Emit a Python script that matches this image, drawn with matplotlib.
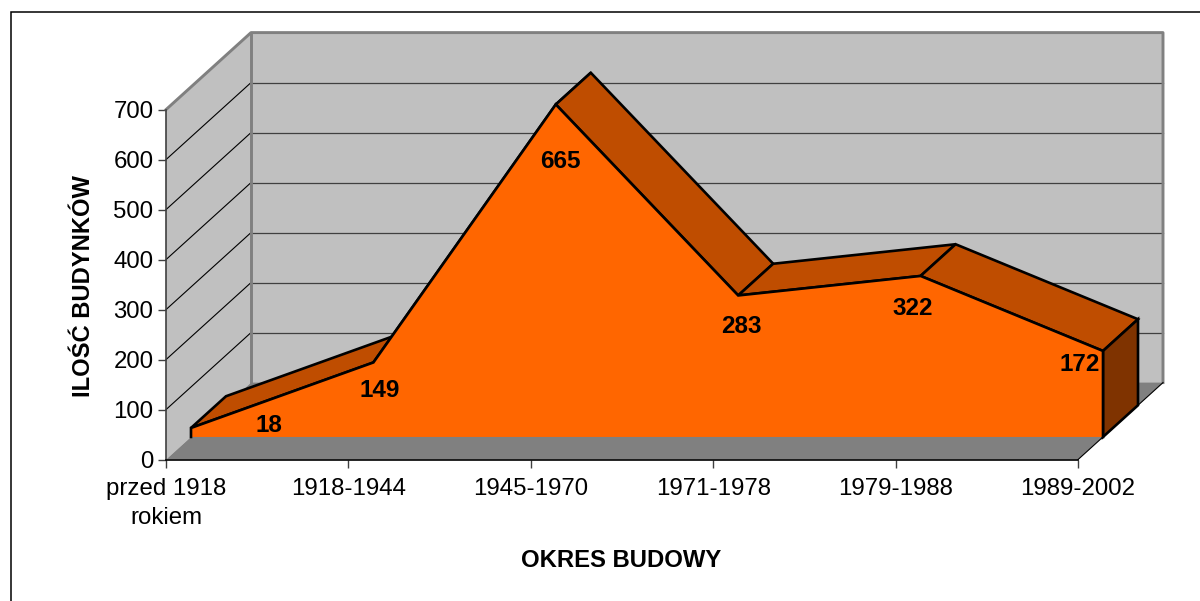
import matplotlib
matplotlib.use("Agg")
import matplotlib.pyplot as plt
from matplotlib.patches import Polygon, Rectangle

plt.rcParams['font.family'] = ['Liberation Sans', 'DejaVu Sans']

categories = ["przed 1918\nrokiem", "1918-1944", "1945-1970", "1971-1978", "1979-1988", "1989-2002"]
values = [18, 149, 665, 283, 322, 172]
y_ticks = [0, 100, 200, 300, 400, 500, 600, 700]
x_title = "OKRES BUDOWY"
y_title = "ILOŚĆ BUDYNKÓW"

# value-label offsets in pixels (right, up), styling only
label_offsets = [(78, 2), (6, -28), (5, -57), (3, -31), (-8, -33), (-23, -14)]

W, H = 1200, 601
fig = plt.figure(figsize=(W / 100, H / 100), dpi=100, facecolor='white')
fig.add_artist(Rectangle((10.5 / W, -0.1), 1.2, 1 - 11.5 / H + 0.1, transform=fig.transFigure,
                         fill=False, ec='black', lw=1.1))
ax = fig.add_axes([166 / W, 1 - 459.6 / H, 912 / W, 350 / H])
ax.set_xlim(0, len(categories) - 1)
ax.set_ylim(y_ticks[0], y_ticks[-1])
ax.patch.set_visible(False)

DEPTH_X = 85 / 912 * (len(categories) - 1)
DEPTH_Y = 77 / 350 * y_ticks[-1]
D_FRONT, D_BACK = 25 / 85, 60 / 85
last = len(categories) - 1


def pr(x, y, d):
    return (x + d * DEPTH_X, y + d * DEPTH_Y)


def poly(points, **kw):
    ax.add_patch(Polygon(points, closed=True, clip_on=False, **kw))


WALL, FLOOR, EDGE = '#C0C0C0', '#808080', '#808080'
FRONT, TOP, SIDE = '#FF6600', '#BF4D00', '#7F3300'
ymax = y_ticks[-1]

# walls and floor
poly([pr(0, 0, 1), pr(last, 0, 1), pr(last, ymax, 1), pr(0, ymax, 1)], fc=WALL, ec='none', zorder=1)
poly([pr(0, 0, 0), pr(0, 0, 1), pr(0, ymax, 1), pr(0, ymax, 0)], fc=WALL, ec='none', zorder=1)
for v in y_ticks[1:-1]:
    xs, ys = zip(pr(0, v, 0), pr(0, v, 1))
    ax.plot(xs, ys, color='black', lw=0.8, clip_on=False, zorder=1.5)
    xs, ys = zip(pr(0, v, 1), pr(last, v, 1))
    ax.plot(xs, ys, color='#404040', lw=0.9, clip_on=False, zorder=1.5)
edge_pts = [pr(0, ymax, 0), pr(0, ymax, 1), pr(last, ymax, 1), pr(last, 0, 1)]
xs, ys = zip(*edge_pts)
ax.plot(xs, ys, color=EDGE, lw=2.1, clip_on=False, zorder=1.6)
xs, ys = zip(pr(0, 0, 1), pr(0, ymax, 1))
ax.plot(xs, ys, color=EDGE, lw=2.1, clip_on=False, zorder=1.6)
poly([pr(0, 0, 0), pr(last, 0, 0), pr(last, 0, 1), pr(0, 0, 1)], fc=FLOOR, ec='none', zorder=2)
xs, ys = zip(pr(last, 0, 0), pr(last, 0, 1))
ax.plot(xs, ys, color='black', lw=0.8, clip_on=False, zorder=2.1)

# area: top faces, front face, right side
line = dict(ec='black', lw=1.9, joinstyle='miter')
for i in range(last):
    poly([pr(i, values[i], D_FRONT), pr(i + 1, values[i + 1], D_FRONT),
          pr(i + 1, values[i + 1], D_BACK), pr(i, values[i], D_BACK)],
         fc=TOP, zorder=3, **line)
poly([pr(last, 0, D_FRONT), pr(last, values[-1], D_FRONT),
      pr(last, values[-1], D_BACK), pr(last, 0, D_BACK)], fc=SIDE, zorder=3, **line)
front = [pr(0, 0, D_FRONT)] + [pr(i, v, D_FRONT) for i, v in enumerate(values)] + [pr(last, 0, D_FRONT)]
poly(front, fc=FRONT, ec='none', zorder=4)
xs, ys = zip(*front)
ax.plot(xs, ys, color='black', lw=1.9, clip_on=False, zorder=5, solid_joinstyle='miter')

# value labels
for i, v in enumerate(values):
    dx, dy = label_offsets[i]
    ax.annotate(str(v), xy=pr(i, v, D_FRONT), xytext=(dx * 0.72, dy * 0.72), textcoords='offset points',
                ha='center', va='center', fontsize=17.5, fontweight='bold', color='black',
                zorder=6, annotation_clip=False)

# axes
ax.set_xticks(range(len(categories)), categories)
ax.set_yticks(y_ticks)
ax.tick_params(axis='both', labelsize=17.25, length=6, width=1, color='#404040', labelcolor='black', pad=3)
ax.tick_params(axis='x', pad=7.3)
for t in ax.get_xticklabels():
    t.set_linespacing(1.42)
ax.spines['top'].set_visible(False)
ax.spines['right'].set_visible(False)
ax.spines['left'].set_color('#404040')
ax.spines['left'].set_linewidth(1.2)
ax.spines['bottom'].set_color('black')
ax.spines['bottom'].set_linewidth(1.2)
for s in ax.spines.values():
    s.set_zorder(5)

fig.text(621 / W, 1 - 560.5 / H, x_title, ha='center', va='center', fontsize=17.2, fontweight='bold')
fig.text(83 / W, 1 - 286 / H, y_title, ha='center', va='center', rotation=90, fontsize=17.1, fontweight='bold')

fig.savefig('out.png', dpi=100, facecolor='white')
